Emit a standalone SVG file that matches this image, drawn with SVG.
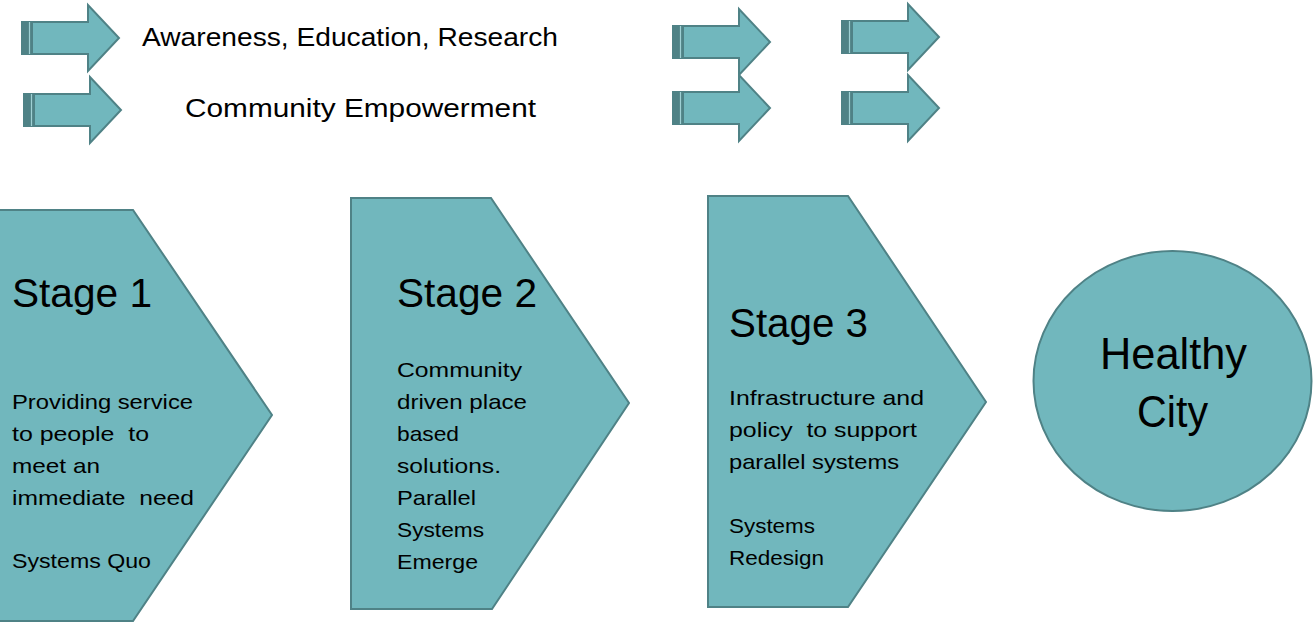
<svg xmlns="http://www.w3.org/2000/svg" xmlns:xlink="http://www.w3.org/1999/xlink" width="1314" height="623" viewBox="0 0 1314 623">
<style>
.shape{fill:#71B7BD;stroke:#4F8286;stroke-width:2}
.stripe{fill:#4F8286}
.t{font-family:"Liberation Sans",Arial,sans-serif;fill:#000}
.top{font-size:26px}
.stage{font-size:40px}
.body{font-size:21px}
.big{font-size:44px}
</style>
<defs>
<g id="arrow">
<polygon class="shape" points="0,-16 66,-16 66,-33 97,0 66,33 66,16 0,16"/>
<rect class="stripe" x="0" y="-16" width="11" height="32"/>
<line x1="7.5" y1="-16" x2="7.5" y2="16" stroke="#9FD0D4" stroke-width="1.2"/>
</g>
</defs>
<rect width="1314" height="623" fill="#fff"/>
<g id="connectors">
<use xlink:href="#arrow" transform="translate(22,38)"/>
<use xlink:href="#arrow" transform="translate(24,110)"/>
<use xlink:href="#arrow" transform="translate(673,42)"/>
<use xlink:href="#arrow" transform="translate(842,37)"/>
<use xlink:href="#arrow" transform="translate(673,108)"/>
<use xlink:href="#arrow" transform="translate(842,108)"/>
</g>
<g id="label-awareness">
<text class="t top" x="142" y="46" textLength="416" lengthAdjust="spacingAndGlyphs">Awareness, Education, Research</text>
</g>
<g id="label-community">
<text class="t top" x="185" y="117" textLength="351" lengthAdjust="spacingAndGlyphs">Community Empowerment</text>
</g>
<g id="stage1">
<polygon class="shape" points="-2,210 133,210 272,415 133,621 -2,621"/>
<text class="t stage" x="12" y="307" textLength="140" lengthAdjust="spacingAndGlyphs">Stage 1</text>
<text class="t body" x="12" y="409" textLength="181" lengthAdjust="spacingAndGlyphs">Providing service</text>
<text class="t body" x="12" y="441" textLength="137" lengthAdjust="spacingAndGlyphs" xml:space="preserve">to people  to</text>
<text class="t body" x="12" y="473" textLength="88" lengthAdjust="spacingAndGlyphs">meet an</text>
<text class="t body" x="12" y="505" textLength="182" lengthAdjust="spacingAndGlyphs" xml:space="preserve">immediate  need</text>
<text class="t body" x="12" y="568" textLength="139" lengthAdjust="spacingAndGlyphs">Systems Quo</text>
</g>
<g id="stage2">
<polygon class="shape" points="351,198 491,198 629,403 492,609 351,609"/>
<text class="t stage" x="397" y="307" textLength="140" lengthAdjust="spacingAndGlyphs">Stage 2</text>
<text class="t body" x="397" y="377" textLength="125" lengthAdjust="spacingAndGlyphs">Community</text>
<text class="t body" x="397" y="409" textLength="130" lengthAdjust="spacingAndGlyphs">driven place</text>
<text class="t body" x="397" y="441" textLength="62" lengthAdjust="spacingAndGlyphs">based</text>
<text class="t body" x="397" y="473" textLength="104" lengthAdjust="spacingAndGlyphs">solutions.</text>
<text class="t body" x="397" y="505" textLength="79" lengthAdjust="spacingAndGlyphs">Parallel</text>
<text class="t body" x="397" y="537" textLength="87" lengthAdjust="spacingAndGlyphs">Systems</text>
<text class="t body" x="397" y="569" textLength="81" lengthAdjust="spacingAndGlyphs">Emerge</text>
</g>
<g id="stage3">
<polygon class="shape" points="708,196 848,196 986,402 848,607 708,607"/>
<text class="t stage" x="729" y="337" textLength="139" lengthAdjust="spacingAndGlyphs">Stage 3</text>
<text class="t body" x="729" y="405" textLength="195" lengthAdjust="spacingAndGlyphs">Infrastructure and</text>
<text class="t body" x="729" y="437" textLength="188" lengthAdjust="spacingAndGlyphs" xml:space="preserve">policy  to support</text>
<text class="t body" x="729" y="469" textLength="170" lengthAdjust="spacingAndGlyphs">parallel systems</text>
<text class="t body" x="729" y="533" textLength="86" lengthAdjust="spacingAndGlyphs">Systems</text>
<text class="t body" x="729" y="565" textLength="95" lengthAdjust="spacingAndGlyphs">Redesign</text>
</g>
<g id="healthy-city">
<ellipse class="shape" cx="1172.5" cy="381" rx="139" ry="130"/>
<text class="t big" x="1100" y="369" textLength="147" lengthAdjust="spacingAndGlyphs">Healthy</text>
<text class="t big" x="1137" y="427" textLength="71" lengthAdjust="spacingAndGlyphs">City</text>
</g>
</svg>
